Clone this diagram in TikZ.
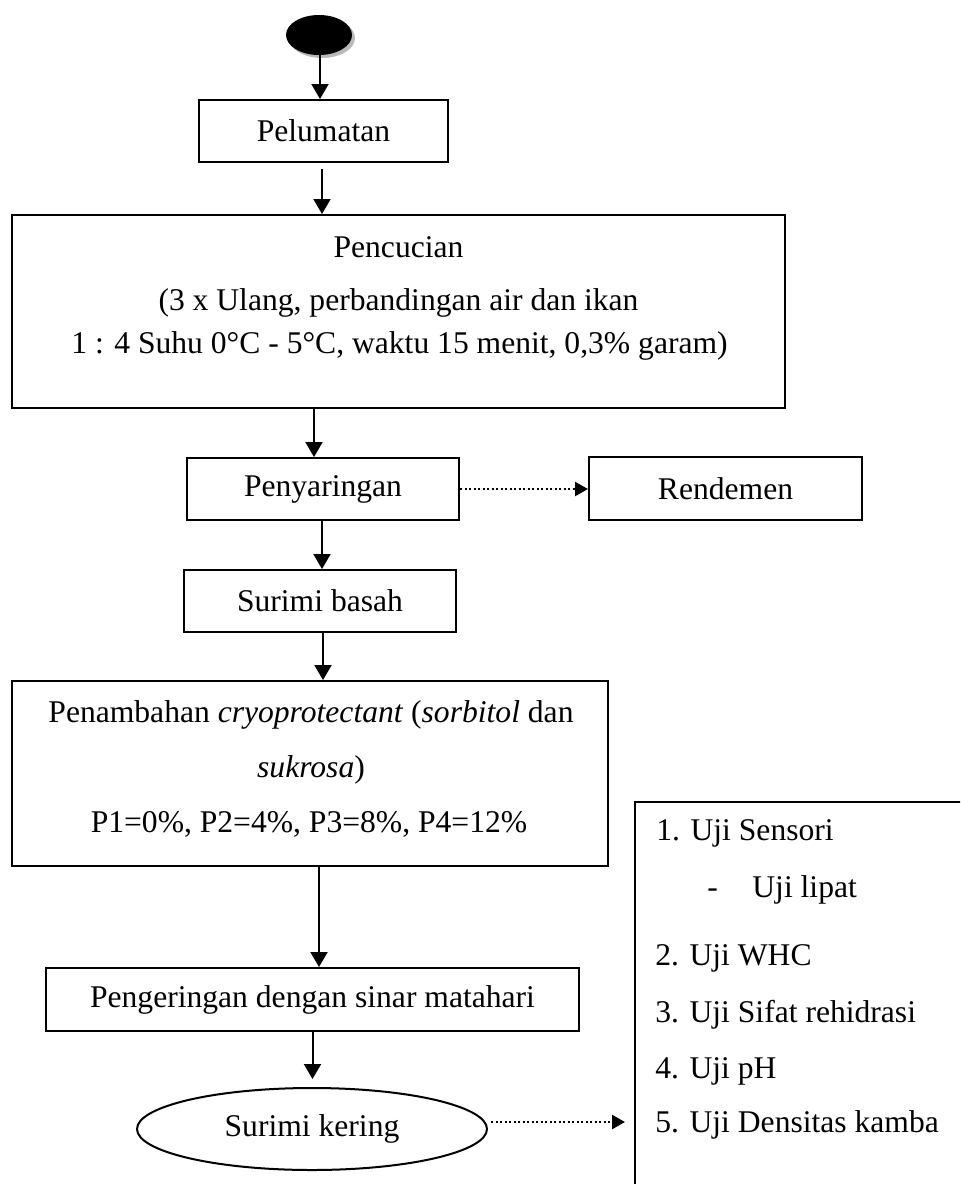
\documentclass[tikz,border=0pt]{standalone}
\usepackage{fontspec}
\setmainfont{Liberation Serif}
\usetikzlibrary{arrows.meta,shapes.geometric,shadows}
\begin{document}
\begin{tikzpicture}[x=0.5pt,y=-0.5pt,
  every node/.style={font=\fontsize{15.8}{19}\selectfont},
  box/.style={draw,line width=1pt,inner sep=0pt},
  txt/.style={inner sep=0pt},
  arr/.style={line width=1pt,-{Triangle[length=7.5pt,width=8.5pt]}},
  dotarr/.style={line width=1.2pt,dash pattern=on 1.15pt off 1.1pt,-{Triangle[length=6.5pt,width=7pt]}}]
\clip (0,0) rectangle (960,1184);
\fill[white] (0,0) rectangle (960,1184);

% start
\node[ellipse,fill=black,minimum width=33pt,minimum height=20pt,inner sep=0pt,
  drop shadow={shadow xshift=1.5pt,shadow yshift=-1.5pt,fill=gray!55,opacity=1}] (start) at (319,35) {};

% boxes
\node[box,minimum width=124.5pt,minimum height=31pt] (pel) at (323.5,131) {Pelumatan};
\node[box,minimum width=386.5pt,minimum height=96.5pt] (pen) at (398.5,311.5) {};
\node[txt,anchor=base] (pen1) at (398.5,257) {Pencucian};
\node[txt,anchor=base] (pen2) at (398.5,310) {(3 x Ulang, perbandingan air dan ikan};
\node[txt,anchor=base] (pen3) at (399.5,353) {1 : 4 Suhu 0°C - 5°C, waktu 15 menit, 0,3\% garam)};

\node[box,minimum width=136pt,minimum height=31pt] (sar) at (323,489) {Penyaringan};
\node[box,minimum width=136.5pt,minimum height=31.5pt] (ren) at (725.5,488.5) {Rendemen};
\node[box,minimum width=136pt,minimum height=31pt] (bas) at (320,601) {Surimi basah};

\node[box,minimum width=298pt,minimum height=92.5pt] (tam) at (310,773.5) {};
\node[txt,anchor=base] (tam1) at (311,722) {Penambahan \textit{cryoprotectant} (\textit{sorbitol} dan};
\node[txt,anchor=base] (tam2) at (311,777) {\textit{sukrosa})};
\node[txt,anchor=base] (tam3) at (309,832) {P1=0\%, P2=4\%, P3=8\%, P4=12\%};

\node[box,minimum width=266.5pt,minimum height=31.5pt] (ker) at (312.5,999.5) {Pengeringan dengan sinar matahari};
\node[draw,ellipse,line width=1pt,inner sep=0pt,minimum width=175pt,minimum height=41pt] (sk) at (312,1129) {Surimi kering};

% test box (extends past the page edge)
\node[box,anchor=north west,minimum width=183pt,minimum height=224.5pt] (uji) at (634,801) {};
\node[txt,anchor=base west] (u1) at (656,840) {1. Uji Sensori};
\node[txt,anchor=base west] (u1d) at (707,897) {-};
\node[txt,anchor=base west] (u1a) at (752,897) {Uji lipat};
\node[txt,anchor=base west] (u2) at (655,965) {2. Uji WHC};
\node[txt,anchor=base west] (u3) at (655,1022) {3. Uji Sifat rehidrasi};
\node[txt,anchor=base west] (u4) at (655,1078) {4. Uji pH};
\node[txt,anchor=base west] (u5) at (655,1132) {5. Uji Densitas kamba};

% connectors
\draw[arr] ([xshift=0.5pt]start.south) -- ([xshift=0.5pt]start.south |- pel.north);
\draw[arr,shorten <=3pt] ([xshift=-0.75pt]pel.south) -- ([xshift=-0.75pt]pel.south |- pen.north);
\draw[arr] ([xshift=-42.25pt]pen.south) -- ([xshift=-42.25pt]pen.south |- sar.north);
\draw[arr] ([xshift=-0.5pt]sar.south) -- ([xshift=-0.5pt]sar.south |- bas.north);
\draw[arr] ([xshift=1.5pt]bas.south) -- ([xshift=1.5pt]bas.south |- tam.north);
\draw[arr] ([xshift=4.5pt]tam.south) -- ([xshift=4.5pt]tam.south |- ker.north);
\draw[arr,shorten >=4pt] (ker.south) -- (ker.south |- sk.north);
\draw[dotarr] (sar.east) -- (sar.east -| ren.west);
\draw[dotarr,shorten >=4.5pt,shorten <=1.5pt] ([yshift=3.5pt]sk.east) -- ([yshift=3.5pt]sk.east -| uji.west);
\end{tikzpicture}
\end{document}
